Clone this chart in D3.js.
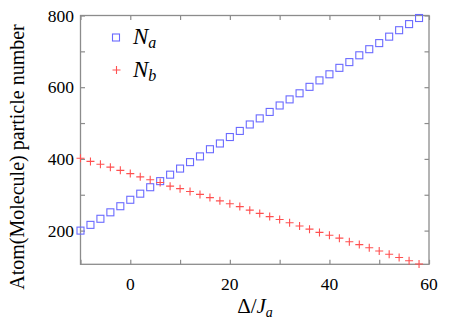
<!DOCTYPE html>
<html>
<head>
<meta charset="utf-8">
<script src="https://cdn.jsdelivr.net/npm/d3@7"></script>
<style>
  body { margin: 0; background: #fff; }
  svg { display: block; }
  svg text { font-family: "Times New Roman", "Liberation Serif", Times, "Nimbus Roman", "DejaVu Serif", serif; }
</style>
</head>
<body>
<div id="chart"></div>
<script>
// data
const delta = d3.range(-10, 59, 2);
const Na = [200, 216, 233, 251, 268, 286, 303, 321, 338, 356, 373, 391, 407, 427, 443, 461, 478, 496,
            513, 531, 549, 566, 583, 601, 619, 636, 654, 670, 689, 706, 723, 741, 759, 776, 793];
const Nb = [402, 393, 385, 377, 368, 359, 350, 342, 334, 324, 317, 309, 301, 292, 283, 275, 267, 257,
            248, 239, 231, 222, 213, 204, 195, 187, 179, 169, 161, 152, 143, 134, 125, 116, 107];
const xTicks = [-10, 0, 10, 20, 30, 40, 50, 60];
const xLabels = [0, 20, 40, 60];
const yTicks = [200, 300, 400, 500, 600, 700, 800];
const yLabels = [200, 400, 600, 800];

const width = 452, height = 321;
const margin = {left: 80.5, right: 23, top: 15.5, bottom: 56.7};

const svg = d3.select("#chart").append("svg")
    .attr("width", width)
    .attr("height", height);

const x = d3.scaleLinear().domain([-10, 60]).range([margin.left, width - margin.right]);
const y = d3.scaleLinear().domain([106, 800]).range([height - margin.bottom, margin.top]);

const frameColor = "#8c8c8c";

// frame
svg.append("rect")
    .attr("x", x(-10)).attr("y", y(800))
    .attr("width", x(60) - x(-10)).attr("height", y(106) - y(800))
    .attr("fill", "none").attr("stroke", frameColor).attr("stroke-width", 1.3);

// inward ticks on all sides
const tl = 4.5;
const bottomAxis = d3.axisBottom(x).tickValues(xTicks).tickSizeInner(-tl).tickSizeOuter(0).tickFormat("");
const topAxis = d3.axisTop(x).tickValues(xTicks).tickSizeInner(-tl).tickSizeOuter(0).tickFormat("");
const leftAxis = d3.axisLeft(y).tickValues(yTicks).tickSizeInner(-tl).tickSizeOuter(0).tickFormat("");
const rightAxis = d3.axisRight(y).tickValues(yTicks).tickSizeInner(-tl).tickSizeOuter(0).tickFormat("");

[[bottomAxis, `translate(0,${y(106)})`], [topAxis, `translate(0,${y(800)})`],
 [leftAxis, `translate(${x(-10)},0)`], [rightAxis, `translate(${x(60)},0)`]].forEach(([ax, tr]) => {
    const g = svg.append("g").attr("transform", tr).call(ax);
    g.select(".domain").remove();
    g.selectAll("line").attr("stroke", frameColor).attr("stroke-width", 1.2);
});

// tick labels
svg.append("g").selectAll("text")
    .data(xLabels).join("text")
    .attr("x", d => x(d)).attr("y", 289.5)
    .attr("text-anchor", "middle")
    .style("font-size", "17.5px")
    .text(d => d);

svg.append("g").selectAll("text")
    .data(yLabels).join("text")
    .attr("x", 74).attr("y", d => y(d) + 6)
    .attr("text-anchor", "end")
    .style("font-size", "17.5px")
    .text(d => d);

// axis titles
const xt = svg.append("text")
    .attr("x", 255).attr("y", 313)
    .attr("text-anchor", "middle")
    .style("font-size", "21px");
xt.append("tspan").text("Δ/");
xt.append("tspan").style("font-style", "italic").text("J");
xt.append("tspan").style("font-style", "italic").style("font-size", "14px").attr("dy", 4).text("a");

svg.append("text")
    .attr("transform", `translate(24,157) rotate(-90)`)
    .attr("text-anchor", "middle")
    .style("font-size", "20px")
    .text("Atom(Molecule) particle number");

// markers
const blue = "#6a6aff", red = "#ff5050";
const plot = svg.append("g");
const s = 7;

plot.selectAll("rect.na")
    .data(delta.map((d, i) => [d, Na[i]]))
    .join("rect")
    .attr("class", "na")
    .attr("x", d => x(d[0]) - s / 2).attr("y", d => y(d[1]) - s / 2)
    .attr("width", s).attr("height", s)
    .attr("fill", "none").attr("stroke", blue).attr("stroke-width", 1.1);

const plus = (px, py, r) => `M${px - r},${py}H${px + r}M${px},${py - r}V${py + r}`;

plot.selectAll("path.nb")
    .data(delta.map((d, i) => [d, Nb[i]]))
    .join("path")
    .attr("class", "nb")
    .attr("d", d => plus(x(d[0]), y(d[1]), 4))
    .attr("fill", "none").attr("stroke", red).attr("stroke-width", 1.1);

// legend
const legend = svg.append("g");
legend.append("rect")
    .attr("x", 116 - s / 2).attr("y", 37.5 - s / 2)
    .attr("width", s).attr("height", s)
    .attr("fill", "none").attr("stroke", blue).attr("stroke-width", 1.1);
legend.append("path")
    .attr("d", plus(116.5, 70, 4))
    .attr("fill", "none").attr("stroke", red).attr("stroke-width", 1.1);

[["a", 44], ["b", 77]].forEach(([sub, by]) => {
    const t = legend.append("text")
        .attr("x", 133).attr("y", by)
        .style("font-size", "23px").style("font-style", "italic");
    t.append("tspan").text("N");
    t.append("tspan").style("font-size", "16px").attr("dy", 4).text(sub);
});
</script>
</body>
</html>
